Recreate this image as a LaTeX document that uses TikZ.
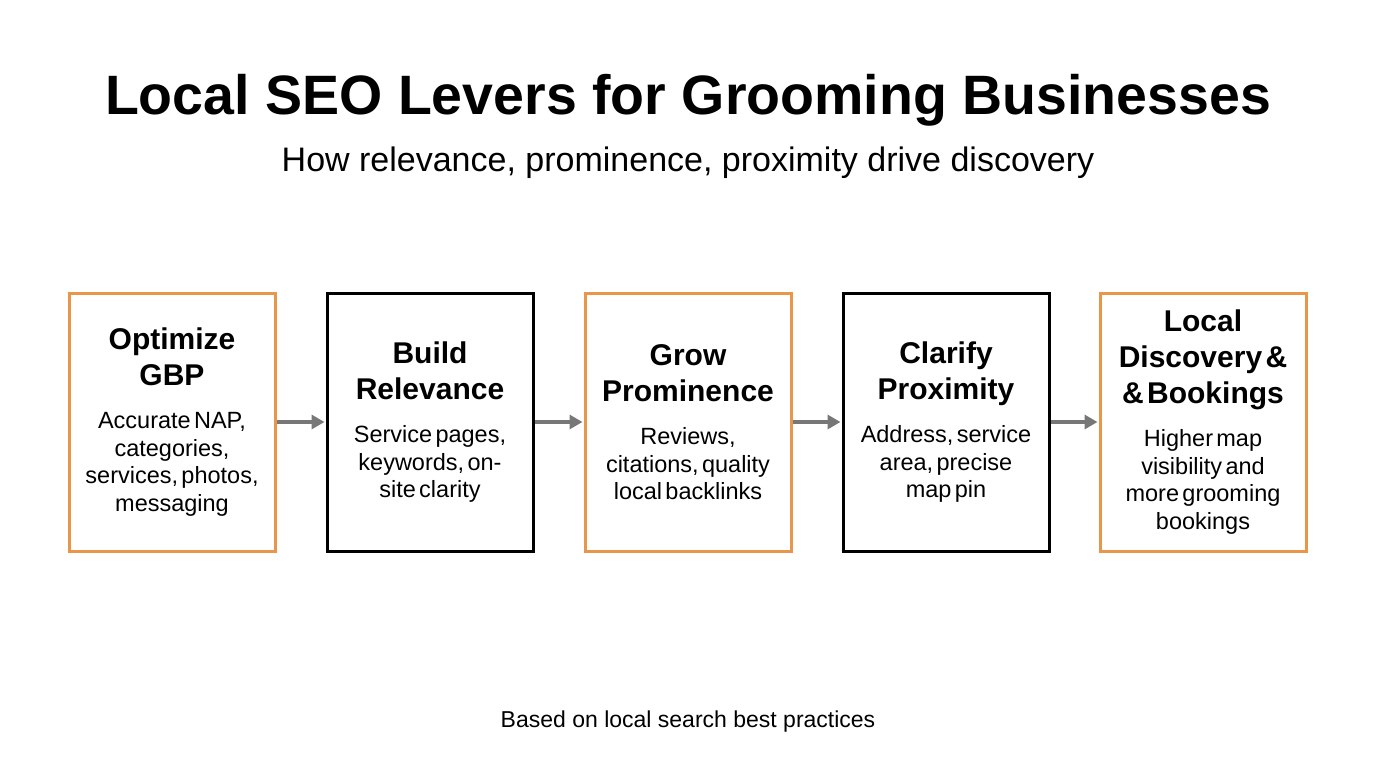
\documentclass[tikz,border=0pt]{standalone}
\usepackage{fontspec}
\setmainfont{Liberation Sans}
\usetikzlibrary{arrows.meta}
\definecolor{org}{HTML}{E8964A}
\definecolor{arr}{HTML}{777777}
\newcommand{\bx}[2]{{\fontsize{30}{36}\selectfont\bfseries #1\par}\vspace{16pt}{\fontsize{23.5}{27.5}\selectfont #2\par}}
\begin{document}
\begin{tikzpicture}[x=1pt,y=-1pt,
  box/.style={draw=#1,line width=3pt,minimum width=206pt,minimum height=258pt,inner sep=0pt,align=center,text width=200pt,fill=white},
  con/.style={draw=arr,line width=3.5pt,-{Triangle[length=13pt,width=14pt]},shorten >=1pt}]
\useasboundingbox (0,0) rectangle (1376,768);
\node (title) at (688,100) {\fontsize{55.5}{64}\selectfont\bfseries Local SEO Levers for Grooming Businesses};
\node (sub) at (688,163) {\fontsize{34}{40}\selectfont How relevance, prominence, proximity drive discovery};
\node (foot) at (688,722) {\fontsize{23}{28}\selectfont Based on local search best practices};
\node[box=org] (b1) at (172,422) {\bx{Optimize\\GBP}{Accurate NAP,\\categories,\\services, photos,\\messaging}};
\node[box=black] (b2) at (430,422) {\bx{Build\\Relevance}{Service pages,\\keywords, on-\\site clarity}};
\node[box=org] (b3) at (688,422) {\bx{Grow\\Prominence}{Reviews,\\citations, quality\\local backlinks}};
\node[box=black] (b4) at (946,422) {\bx{Clarify\\Proximity}{Address, service\\area, precise\\map pin}};
\node[box=org] (b5) at (1203,422) {\bx{Local\\Discovery \&\\\& Bookings}{Higher map\\visibility and\\more grooming\\bookings}};
\draw[con] (b1) -- (b2);
\draw[con] (b2) -- (b3);
\draw[con] (b3) -- (b4);
\draw[con] (b4) -- (b5);
\end{tikzpicture}
\end{document}
